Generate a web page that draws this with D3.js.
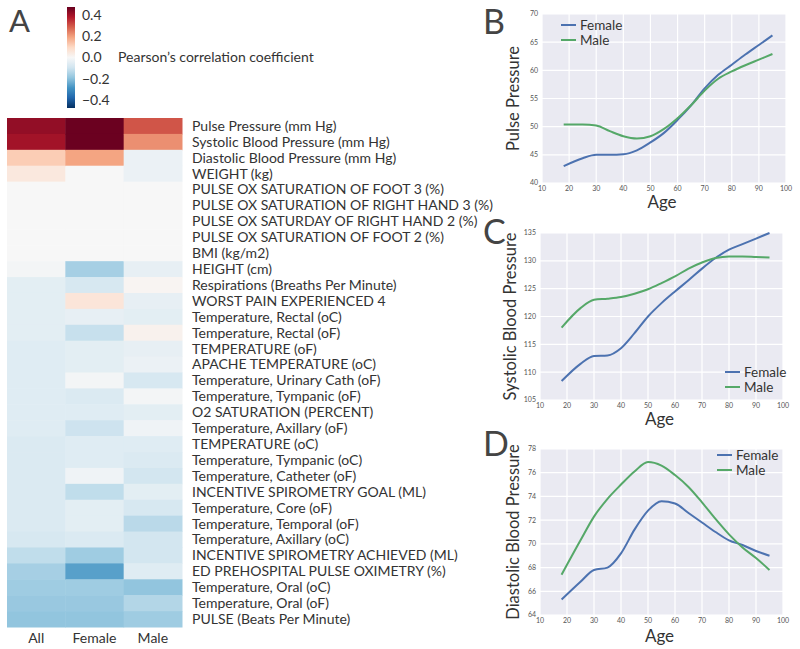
<!DOCTYPE html>
<html><head><meta charset="utf-8">
<script src="https://cdn.jsdelivr.net/npm/d3@7"></script>
<style>
body{margin:0;background:#fff;}
text{font-family:Lato,"Open Sans",sans-serif;}
</style></head>
<body><svg id="c" width="800" height="649"></svg>
<script>
// ---------- DATA ----------
const rowLabels = [
"Pulse Pressure (mm Hg)","Systolic Blood Pressure (mm Hg)","Diastolic Blood Pressure (mm Hg)","WEIGHT (kg)",
"PULSE OX SATURATION OF FOOT 3 (%)","PULSE OX SATURATION OF RIGHT HAND 3 (%)","PULSE OX SATURDAY OF RIGHT HAND 2 (%)",
"PULSE OX SATURATION OF FOOT 2 (%)","BMI (kg/m2)","HEIGHT (cm)","Respirations (Breaths Per Minute)","WORST PAIN EXPERIENCED 4",
"Temperature, Rectal (oC)","Temperature, Rectal (oF)","TEMPERATURE (oF)","APACHE TEMPERATURE (oC)",
"Temperature, Urinary Cath (oF)","Temperature, Tympanic (oF)","O2 SATURATION (PERCENT)","Temperature, Axillary (oF)",
"TEMPERATURE (oC)","Temperature, Tympanic (oC)","Temperature, Catheter (oF)","INCENTIVE SPIROMETRY GOAL (ML)",
"Temperature, Core (oF)","Temperature, Temporal (oF)","Temperature, Axillary (oC)","INCENTIVE SPIROMETRY ACHIEVED (ML)",
"ED PREHOSPITAL PULSE OXIMETRY (%)","Temperature, Oral (oC)","Temperature, Oral (oF)","PULSE (Beats Per Minute)"];
const colLabels = ["All","Female","Male"];
const corrAll    = [0.42,0.40,0.12,0.05,0,0,0,0,0,-0.01,-0.05,-0.05,-0.05,-0.05,-0.06,-0.06,-0.06,-0.06,-0.06,-0.06,-0.07,-0.07,-0.07,-0.07,-0.07,-0.07,-0.08,-0.12,-0.16,-0.17,-0.18,-0.19];
const corrFemale = [0.47,0.47,0.19,0.00,0,0,0,0,0,-0.16,-0.08,0.06,-0.04,-0.11,-0.05,-0.05,-0.01,-0.07,-0.06,-0.10,-0.06,-0.06,-0.02,-0.12,-0.05,-0.05,-0.07,-0.17,-0.26,-0.17,-0.18,-0.19];
const corrMale   = [0.30,0.22,-0.03,-0.03,0,0,0,0,0,-0.04,0.01,-0.04,-0.05,0.02,-0.04,-0.03,-0.08,-0.01,-0.05,-0.02,-0.06,-0.07,-0.09,-0.05,-0.08,-0.13,-0.09,-0.09,-0.06,-0.19,-0.14,-0.17];
const cbarTicks = [0.4,0.2,0.0,-0.2,-0.4];

const ages = [18,25,30,35,40,45,50,55,60,65,70,75,80,85,90,95];
const ppFemale  = [43.0,44.4,45.0,45.0,45.1,45.8,47.2,48.9,51.2,53.8,56.8,59.2,61.0,62.8,64.5,66.2];
const ppMale    = [50.4,50.4,50.2,49.2,48.3,47.9,48.3,49.6,51.5,53.8,56.4,58.5,59.8,60.9,61.9,62.9];
const sbpFemale = [108.4,111.5,112.9,113.0,114.3,117.0,120.0,122.4,124.5,126.5,128.6,130.5,132.0,133.0,134.0,135.0];
const sbpMale   = [118.0,121.5,123.0,123.2,123.5,124.1,124.9,126.0,127.2,128.6,129.7,130.5,130.8,130.8,130.7,130.6];
const dbpFemale = [65.3,66.8,67.8,68.0,69.2,71.2,72.8,73.6,73.4,72.6,71.8,71.0,70.3,69.9,69.4,69.0];
const dbpMale   = [67.4,70.3,72.3,73.8,75.0,76.1,76.9,76.6,75.8,74.8,73.5,72.1,70.8,69.7,68.8,67.8];
const xTicks = [10,20,30,40,50,60,70,80,90,100];
const ppTicks = [40,45,50,55,60,65,70];
const sbpTicks = [105,110,115,120,125,130,135];
const dbpTicks = [64,66,68,70,72,74,76,78];

// ---------- DRAW ----------
const svg = d3.select("#c");
const vmax = 0.475;
const rdbu = ["#67001f","#b2182b","#d6604d","#f4a582","#fddbc7","#f7f7f7","#d1e5f0","#92c5de","#4393c3","#2166ac","#053061"];
const color = d3.scaleLinear().domain(d3.range(11).map(i => vmax - i*2*vmax/10)).range(rdbu).interpolate(d3.interpolateRgb).clamp(true);

// heatmap
const hm = svg.append("g");
const xh = d3.scaleBand().domain(colLabels).range([7,182]);
const yh = d3.scaleBand().domain(rowLabels).range([118,627]);
const cols = [corrAll, corrFemale, corrMale];
cols.forEach((vals, ci) => {
  hm.selectAll(null).data(vals).enter().append("rect")
    .attr("x", xh(colLabels[ci])).attr("width", xh.bandwidth()+0.5)
    .attr("y", (d,i) => yh(rowLabels[i])).attr("height", yh.bandwidth()+0.5)
    .attr("fill", d => color(d));
});
hm.selectAll(null).data(rowLabels).enter().append("text")
  .attr("x", 192).attr("y", d => yh(d)+yh.bandwidth()/2).attr("dy","0.35em")
  .attr("font-size", 14).attr("fill","#333").text(d => d);
hm.selectAll(null).data(colLabels).enter().append("text")
  .attr("x", d => xh(d)+xh.bandwidth()/2).attr("y", 643).attr("text-anchor","middle")
  .attr("font-size", 14).attr("fill","#333").text(d => d);

// colorbar
const cb = d3.scaleLinear().domain([-vmax, vmax]).range([108,7]);
const defs = svg.append("defs");
const grad = defs.append("linearGradient").attr("id","cbg").attr("x1",0).attr("y1",1).attr("x2",0).attr("y2",0);
d3.range(0,1.0001,0.05).forEach(t => grad.append("stop").attr("offset", t).attr("stop-color", color(-vmax + t*2*vmax)));
svg.append("rect").attr("x",67).attr("y",7).attr("width",8).attr("height",101).attr("fill","url(#cbg)");
svg.selectAll(null).data(cbarTicks).enter().append("text")
  .attr("x",82).attr("y", d => cb(d)).attr("dy","0.35em").attr("font-size",14).attr("fill","#333")
  .text(d => d3.format(".1f")(d).replace("-","\u2212"));
svg.append("text").attr("x",118).attr("y",cb(0)).attr("dy","0.35em").attr("font-size",14).attr("fill","#333")
  .text("Pearson\u2019s correlation coefficient");
svg.append("text").attr("x",9).attr("y",32).attr("font-size",31).attr("fill","#444").text("A");

// line panels
function panel(cfg){
  const g = svg.append("g");
  const x = d3.scaleLinear().domain([10,100]).range([cfg.x0, cfg.x1]);
  const y = d3.scaleLinear().domain(cfg.ydom).range([cfg.y1, cfg.y0]);
  g.append("rect").attr("x",cfg.x0).attr("y",cfg.y0).attr("width",cfg.x1-cfg.x0).attr("height",cfg.y1-cfg.y0).attr("fill","#eaeaf2");
  g.selectAll(null).data(xTicks).enter().append("line")
    .attr("x1", d=>x(d)).attr("x2", d=>x(d)).attr("y1",cfg.y0).attr("y2",cfg.y1).attr("stroke","#fff").attr("stroke-width",1.2);
  g.selectAll(null).data(cfg.yticks).enter().append("line")
    .attr("y1", d=>y(d)).attr("y2", d=>y(d)).attr("x1",cfg.x0).attr("x2",cfg.x1).attr("stroke","#fff").attr("stroke-width",1.2);
  g.selectAll(null).data(xTicks).enter().append("text")
    .attr("x", d=>x(d)).attr("y", cfg.y1+8).attr("text-anchor","middle").attr("font-size",7).attr("fill","#555").text(d=>d);
  g.selectAll(null).data(cfg.yticks).enter().append("text")
    .attr("x", cfg.x0-4).attr("y", d=>y(d)).attr("dy","0.35em").attr("text-anchor","end").attr("font-size",7).attr("fill","#555").text(d=>d);
  const line = d3.line().x((d,i)=>x(ages[i])).y(d=>y(d)).curve(d3.curveMonotoneX);
  g.append("path").attr("d", line(cfg.female)).attr("fill","none").attr("stroke","#4c72b0").attr("stroke-width",2);
  g.append("path").attr("d", line(cfg.male)).attr("fill","none").attr("stroke","#55a868").attr("stroke-width",2);
  g.append("text").attr("transform",`translate(${cfg.ylx},${(cfg.y0+cfg.y1)/2}) rotate(-90)`).attr("text-anchor","middle")
    .attr("font-size",cfg.ylfs).attr("fill","#333").text(cfg.ylabel);
  g.append("text").attr("x",(cfg.x0+cfg.x1)/2 - 2).attr("y",cfg.agey).attr("text-anchor","middle").attr("font-size",17).attr("fill","#333").text("Age");
  g.append("text").attr("x",483).attr("y",cfg.lety).attr("font-size",34).attr("fill","#444").text(cfg.letter);
  [["Female","#4c72b0"],["Male","#55a868"]].forEach((s,i)=>{
    const ly = cfg.legy + i*15;
    g.append("line").attr("x1",cfg.legx).attr("x2",cfg.legx+15).attr("y1",ly).attr("y2",ly).attr("stroke",s[1]).attr("stroke-width",2);
    g.append("text").attr("x",cfg.legx+19).attr("y",ly).attr("dy","0.35em").attr("font-size",13.5).attr("fill","#333").text(s[0]);
  });
}
panel({x0:542,x1:786,y0:14,y1:183,ydom:[40,70],yticks:ppTicks,female:ppFemale,male:ppMale,ylabel:"Pulse Pressure",ylx:519,ylfs:16.5,agey:208,letter:"B",lety:34,legx:561,legy:25});
panel({x0:540,x1:783,y0:233,y1:400,ydom:[105,135],yticks:sbpTicks,female:sbpFemale,male:sbpMale,ylabel:"Systolic Blood Pressure",ylx:516,ylfs:16.5,agey:425,letter:"C",lety:244,legx:725,legy:372});
panel({x0:540,x1:783,y0:449,y1:615,ydom:[64,78],yticks:dbpTicks,female:dbpFemale,male:dbpMale,ylabel:"Diastolic Blood Pressure",ylx:519,ylfs:16.5,agey:642,letter:"D",lety:456,legx:717,legy:455});
</script></body></html>
